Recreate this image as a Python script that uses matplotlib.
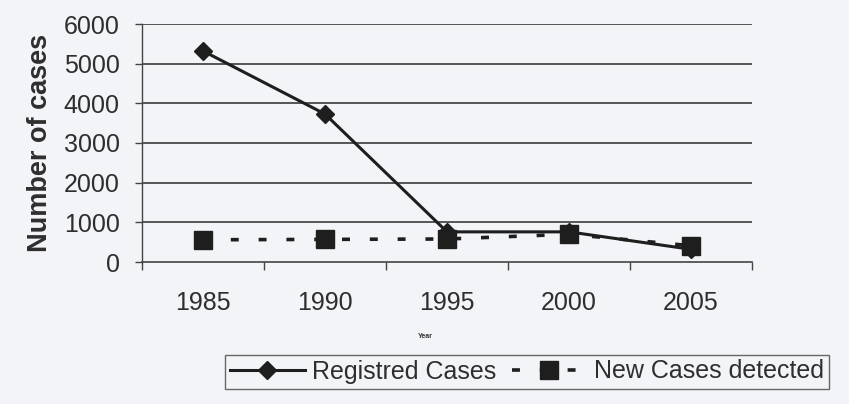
import matplotlib.pyplot as plt

years = ['1985', '1990', '1995', '2000', '2005']
registered = [5320, 3730, 760, 760, 320]
new_cases = [560, 570, 580, 700, 410]
yticks = [0, 1000, 2000, 3000, 4000, 5000, 6000]

plt.rcParams['font.family'] = ['Liberation Sans', 'DejaVu Sans']
ink = '#1e1e1e'
paper = '#f3f4f7'
fs = 18

fig = plt.figure(figsize=(8.49, 4.04), dpi=100, facecolor=paper)
ax = fig.add_axes([142/849, 1-262/404, (752-142)/849, (262-24)/404])
ax.set_facecolor(paper)

x = list(range(len(years)))
ln1, = ax.plot(x, registered, color=ink, lw=2.2, marker='D', ms=9,
               label='Registred Cases', zorder=3)
ln2, = ax.plot(x, new_cases, color=ink, lw=2.6, marker='s', ms=13,
               dashes=(2.2, 5.5), label='New Cases detected', zorder=2)

ax.set_xlim(-0.5, len(years) - 0.5)
ax.set_ylim(0, 6000)
ax.set_yticks(yticks)
ax.set_yticklabels([str(v) for v in yticks], fontsize=fs, color='#2e2e2e')
for v in yticks[1:]:
    ax.axhline(v, color='#3a3a3a', lw=1.2, zorder=1)

# ticks on category boundaries, labels centred on categories
ax.set_xticks([i - 0.5 for i in range(len(years) + 1)])
ax.set_xticklabels([])
ax.set_xticks(x, minor=True)
ax.set_xticklabels(years, minor=True, fontsize=fs, color='#2e2e2e')
ax.tick_params(axis='x', which='major', length=6, width=1, color='#444444', direction='out')
ax.tick_params(axis='x', which='minor', length=0, pad=21)
ax.tick_params(axis='y', length=5, width=1, color='#444444', pad=11)

for side in ['top', 'right']:
    ax.spines[side].set_visible(False)
ax.spines['left'].set_color('#444444')
ax.spines['bottom'].set_color('#444444')
ax.spines['left'].set_linewidth(1)
ax.spines['bottom'].set_linewidth(1.2)

ax.set_ylabel('Number of cases', fontsize=19.5, fontweight='bold', color='#2e2e2e', labelpad=8)
fig.text(425/849, 1-337/404, 'Year', fontsize=5, fontweight='bold', ha='center', va='center', color='#333333')

leg = fig.legend(handles=[ln1, ln2], loc='center', ncol=2,
                 bbox_to_anchor=(527/849, 1-371.5/404), fontsize=fs,
                 frameon=True, fancybox=False, handlelength=3, handletextpad=0.3,
                 columnspacing=0.6, borderpad=0.2, borderaxespad=0)
leg.get_frame().set_edgecolor('#444444')
leg.get_frame().set_facecolor(paper)
leg.get_frame().set_linewidth(1)
for t in leg.get_texts():
    t.set_color('#2e2e2e')

fig.savefig('out.png', dpi=100, facecolor=paper)
